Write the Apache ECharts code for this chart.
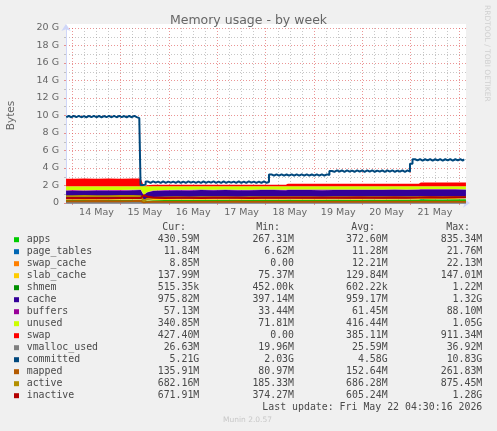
<!DOCTYPE html>
<html>
<head>
<meta charset="utf-8">
<title>Memory usage - by week</title>
<script src="https://cdn.jsdelivr.net/npm/echarts@6.0.0/dist/echarts.min.js"></script>
<style>
  html, body { margin: 0; padding: 0; background: #f0f0f0; }
  #chart { width: 497px; height: 431px; }
</style>
</head>
<body>
<div id="chart"></div>
<script>
// hours since 14 May 00:00, sample points for the stacked areas and thin lines
const hours = [-3.1, 0, 6, 12, 18, 24, 30, 34, 35.5, 37, 40, 46, 52, 58, 64, 70, 76, 82, 88, 94,
  100, 106, 107, 112, 118, 124, 130, 136, 142, 148, 154, 160, 166, 172, 173, 178, 184, 190, 195.4];

// values in G (base 1024)
const apps = [.34, .35, .33, .36, .34, .35, .37, .38, .30, .27, .31, .33, .35, .34, .36, .35, .37, .36, .34, .36,
  .37, .35, .38, .36, .37, .35, .38, .37, .36, .38, .37, .39, .38, .40, .44, .42, .41, .43, .42];
const pageTables = [.010, .010, .011, .011, .010, .011, .011, .012, .009, .008, .010, .011, .011, .012, .011, .011, .012, .011, .011, .012,
  .011, .011, .012, .012, .011, .012, .012, .011, .012, .012, .011, .012, .012, .012, .013, .012, .012, .012, .012];
const swapCache = [.012, .013, .012, .014, .013, .012, .015, .016, 0, .004, .008, .010, .012, .013, .012, .014, .013, .012, .013, .014,
  .012, .013, .011, .012, .013, .012, .011, .012, .013, .012, .011, .012, .010, .011, .009, .010, .009, .009, .009];
const slabCache = [.13, .13, .128, .13, .131, .13, .132, .133, .08, .10, .115, .12, .125, .127, .128, .129, .13, .13, .129, .13,
  .131, .13, .131, .132, .131, .132, .133, .133, .134, .134, .135, .135, .136, .136, .137, .137, .137, .138, .135];
const shmem = [.0006, .0006, .0006, .0007, .0006, .0006, .0007, .0007, .0011, .0008, .0006, .0006, .0006, .0006, .0006, .0006, .0006, .0006, .0006, .0006,
  .0006, .0006, .0006, .0006, .0006, .0006, .0006, .0006, .0006, .0006, .0006, .0006, .0006, .0006, .0005, .0005, .0005, .0005, .0005];
const cache = [.90, .91, .92, .90, .92, .91, .92, .93, .48, .82, .93, .95, .96, .95, .96, .95, .96, .94, .95, .96,
  .95, .96, .95, .96, .95, .96, .94, .95, .96, .94, .95, .96, .95, .96, .95, .96, .97, .96, .953];
const buffers = [.062, .063, .064, .062, .063, .064, .065, .066, .035, .04, .05, .055, .058, .06, .06, .061, .062, .062, .06, .061,
  .062, .062, .063, .062, .061, .062, .063, .062, .062, .061, .062, .062, .061, .06, .058, .058, .057, .057, .056];
const unused = [.465, .443, .454, .442, .442, .442, .406, .382, 1.015, .677, .496, .443, .403, .417, .388, .404, .372, .404, .416, .382,
  .383, .393, .372, .381, .383, .391, .380, .381, .378, .380, .380, .348, .370, .340, .312, .322, .324, .313, .333];
const swap = [.86, .86, .87, .86, .87, .86, .87, .87, 0, .10, .17, .17, .17, .18, .17, .17, .18, .17, .17, .18,
  .17, .17, .29, .29, .29, .29, .29, .29, .29, .29, .29, .29, .29, .29, .42, .42, .42, .42, .417];

const vmallocUsed = [.025, .025, .026, .025, .025, .026, .026, .027, .02, .022, .024, .025, .025, .025, .026, .025, .025, .025, .026, .025,
  .025, .025, .026, .026, .025, .026, .026, .025, .026, .026, .026, .026, .026, .026, .026, .026, .026, .026, .026];
const mapped = [.20, .21, .19, .22, .20, .21, .22, .23, .08, .10, .13, .14, .15, .14, .15, .14, .15, .16, .14, .15,
  .14, .15, .15, .14, .15, .14, .15, .14, .15, .14, .15, .14, .15, .14, .13, .14, .13, .14, .133];
const active = [.77, .78, .79, .77, .78, .80, .79, .78, .20, .45, .58, .62, .65, .64, .66, .65, .66, .64, .65, .66,
  .65, .66, .67, .65, .66, .64, .66, .65, .67, .66, .65, .67, .66, .65, .68, .67, .66, .67, .666];
const inactive = [.55, .56, .54, .57, .55, .56, .57, .58, .90, .75, .62, .58, .59, .60, .58, .61, .59, .60, .58, .60,
  .61, .59, .60, .61, .60, .59, .61, .60, .62, .61, .60, .62, .61, .63, .64, .65, .64, .66, .656];

// committed is sampled every 1.25 h from -3 h
const commitStart = -3;
const commitStep = 1.25;
const committed = [
  9.8, 9.95, 9.8, 9.95, 9.82, 9.96, 9.8, 9.94, 9.8, 9.95, 9.81, 9.96, 9.8, 9.95, 9.8, 9.94, 9.82, 9.95, 9.8, 9.96,
  9.8, 9.95, 9.81, 9.94, 9.8, 9.95, 9.8, 9.96, 9.82, 9.7,
  2.05, 2.1,
  2.45, 2.31, 2.46, 2.32, 2.45, 2.30, 2.46, 2.31, 2.45, 2.32, 2.44, 2.31, 2.46, 2.30, 2.45, 2.31, 2.46, 2.32, 2.45, 2.31,
  2.44, 2.30, 2.46, 2.31, 2.45, 2.32, 2.46, 2.31, 2.45, 2.30, 2.46, 2.31, 2.45, 2.32, 2.44, 2.31, 2.46, 2.30, 2.45, 2.31,
  2.46, 2.32, 2.45, 2.31, 2.44, 2.30, 2.46, 2.31, 2.40,
  3.27, 3.12, 3.28, 3.13, 3.27, 3.12, 3.26, 3.13, 3.28, 3.12, 3.27, 3.13, 3.27, 3.12, 3.28, 3.13, 3.26, 3.12, 3.27, 3.13,
  3.28, 3.12, 3.27, 3.20,
  3.65, 3.57, 3.72, 3.58, 3.73, 3.57, 3.72, 3.58, 3.71, 3.57, 3.72, 3.58, 3.73, 3.57, 3.72, 3.58, 3.72, 3.57, 3.71, 3.58,
  3.73, 3.57, 3.72, 3.58, 3.72, 3.57, 3.71, 3.58, 3.73, 3.57, 3.72, 3.58,
  4.5,
  5.0, 4.86, 5.01, 4.85, 5.0, 4.86, 5.02, 4.85, 5.0, 4.86, 5.01, 4.85, 5.0, 4.86, 5.01, 4.85, 5.0, 4.86, 5.02, 4.85,
  5.0
];

const dayLabels = ['14 May', '15 May', '16 May', '17 May', '18 May', '19 May', '20 May', '21 May'];
const dayNoons = [12, 36, 60, 84, 108, 132, 156, 180];
const midnights = [0, 24, 48, 72, 96, 120, 144, 168, 192];

const names = ['apps', 'page_tables', 'swap_cache', 'slab_cache', 'shmem', 'cache', 'buffers', 'unused', 'swap',
  'vmalloc_used', 'committed', 'mapped', 'active', 'inactive'];
const curVals = ['430.59M', '11.84M', '8.85M', '137.99M', '515.35k', '975.82M', '57.13M', '340.85M', '427.40M',
  '26.63M', '5.21G', '135.91M', '682.16M', '671.91M'];
const minVals = ['267.31M', '6.62M', '0.00', '75.37M', '452.00k', '397.14M', '33.44M', '71.81M', '0.00',
  '19.96M', '2.03G', '80.97M', '185.33M', '374.27M'];
const avgVals = ['372.60M', '11.28M', '12.21M', '129.84M', '602.22k', '959.17M', '61.45M', '416.44M', '385.11M',
  '25.59M', '4.58G', '152.64M', '686.28M', '605.24M'];
const maxVals = ['835.34M', '21.76M', '22.13M', '147.01M', '1.22M', '1.32G', '88.10M', '1.05G', '911.34M',
  '36.92M', '10.83G', '261.83M', '875.45M', '1.28G'];

const colors = ['#00CC00', '#0066B3', '#FF8000', '#FFCC00', '#008F00', '#330099', '#990099', '#CCFF00', '#FF0000',
  '#808080', '#00487D', '#B35A00', '#B38F00', '#B30000'];

let xMin = -3.13
let xMax = 195.43
let gridColor = 'rgba(143,143,143,0.5)'
let mgridColor = 'rgba(222,79,79,0.6)'
let fontColor = '#666'

// value first, hour second: the stack then runs on the value (y) dimension
function pairs(xs, ys) {
  return ys.map((v, i) => [v, xs[i]])
}

let commitHours = committed.map((v, i) => commitStart + i * commitStep)

// 6 hour marks that are not midnights
let quarterMarks = []
for (let h = -18; h <= 198; h += 6) {
  if (h % 24 !== 0) quarterMarks.push(h)
}

let series = []
let stacked = [apps, pageTables, swapCache, slabCache, shmem, cache, buffers, unused, swap]
stacked.forEach((vals, i) => {
  series.push({
    name: names[i],
    type: 'line',
    stack: 'mem',
    data: pairs(hours, vals),
    encode: {x: 1, y: 0},
    symbol: 'none',
    lineStyle: {width: 0},
    itemStyle: {color: colors[i]},
    areaStyle: {color: colors[i], opacity: 1},
    silent: true
  })
})

let lines = [
  [hours, vmallocUsed],
  [commitHours, committed],
  [hours, mapped],
  [hours, active],
  [hours, inactive]
]
lines.forEach((l, k) => {
  let i = 9 + k
  series.push({
    name: names[i],
    type: 'line',
    data: pairs(l[0], l[1]),
    encode: {x: 1, y: 0},
    step: names[i] === 'committed' ? 'middle' : false,
    symbol: 'none',
    lineStyle: {width: 2, color: colors[i]},
    itemStyle: {color: colors[i]},
    silent: true
  })
})

// legend table (rrdtool style)
let graphics = []
let monoFont = '9.9px "DejaVu Sans Mono"'
let legendColor = '#4a4a4a'
let headerY = 227.7
let headers = [['Cur:', 186], ['Min:', 280], ['Avg:', 375], ['Max:', 470]]
headers.forEach(h => {
  graphics.push({
    type: 'text', x: h[1], y: headerY,
    style: {text: h[0], font: monoFont, fill: legendColor, align: 'right', verticalAlign: 'middle'}
  })
})
names.forEach((n, i) => {
  let y = 239.7 + i * 12
  graphics.push({type: 'rect', shape: {x: 14, y: y - 2.5, width: 5, height: 5}, style: {fill: colors[i]}})
  graphics.push({
    type: 'text', x: 26.7, y: y,
    style: {text: n, font: monoFont, fill: legendColor, align: 'left', verticalAlign: 'middle'}
  })
  let cols = [[curVals, 199.3], [minVals, 294], [avgVals, 387.7], [maxVals, 482.3]]
  cols.forEach(c => {
    graphics.push({
      type: 'text', x: c[1], y: y,
      style: {text: c[0][i], font: monoFont, fill: legendColor, align: 'right', verticalAlign: 'middle'}
    })
  })
})
graphics.push({
  type: 'text', x: 482.3, y: 407.7,
  style: {text: 'Last update: Fri May 22 04:30:16 2026', font: monoFont, fill: legendColor, align: 'right', verticalAlign: 'middle'}
})
graphics.push({
  type: 'text', x: 247.5, y: 419.7,
  style: {text: 'Munin 2.0.57', font: '7.5px "DejaVu Sans"', fill: '#c8c8c8', align: 'center', verticalAlign: 'middle'}
})
graphics.push({
  type: 'text', x: 487, y: 5, rotation: -Math.PI / 2,
  style: {text: 'RRDTOOL / TOBI OETIKER', font: '7.5px "DejaVu Sans"', fill: '#d0d0d0', align: 'left', verticalAlign: 'middle'}
})
// a few px of canvas above the 20 G line
graphics.push({type: 'rect', z: -10, shape: {x: 66, y: 24, width: 400, height: 4}, style: {fill: '#fff'}})

let chart = echarts.init(document.getElementById('chart'))
let option = {
  backgroundColor: '#F0F0F0',
  animation: false,
  title: {
    text: 'Memory usage - by week',
    left: 'center',
    top: 14,
    padding: 0,
    textStyle: {fontFamily: 'DejaVu Sans', fontSize: 12.5, fontWeight: 'normal', color: fontColor}
  },
  grid: {
    left: 66, right: 31, top: 28, bottom: 228,
    outerBoundsMode: 'none',
    show: true, backgroundColor: '#FFFFFF', borderWidth: 0
  },
  xAxis: [
    {
      type: 'value',
      min: xMin,
      max: xMax,
      axisLine: {
        onZero: false,
        lineStyle: {color: '#CFD6F8'},
        symbol: ['none', 'arrow'], symbolSize: [7, 7], symbolOffset: [0, 4]
      },
      axisTick: {show: true, length: 2, customValues: midnights, lineStyle: {color: mgridColor}},
      axisLabel: {
        customValues: dayNoons,
        margin: 5,
        color: fontColor,
        fontFamily: 'DejaVu Sans',
        fontSize: 9.5,
        formatter: v => dayLabels[Math.round((v - 12) / 24)]
      },
      splitLine: {show: true, lineStyle: {color: mgridColor, type: [1, 2], width: 1}}
    },
    {
      type: 'value',
      min: xMin,
      max: xMax,
      position: 'top',
      axisLine: {show: false, onZero: false},
      axisLabel: {show: false},
      axisTick: {show: false, customValues: quarterMarks},
      splitLine: {show: true, lineStyle: {color: gridColor, type: [1, 2], width: 1}}
    }
  ],
  yAxis: {
    type: 'value',
    min: 0,
    max: 20,
    interval: 2,
    name: 'Bytes',
    nameLocation: 'middle',
    nameGap: 49,
    nameTextStyle: {fontFamily: 'DejaVu Sans', fontSize: 10.5, color: fontColor},
    axisLine: {
      show: true,
      onZero: false,
      lineStyle: {color: '#CFD6F8'},
      symbol: ['none', 'arrow'], symbolSize: [7, 7], symbolOffset: [0, 4]
    },
    axisTick: {show: true, length: 2, lineStyle: {color: mgridColor}},
    minorTick: {show: true, splitNumber: 2, length: 2, lineStyle: {color: gridColor}},
    axisLabel: {
      margin: 7,
      color: fontColor,
      fontFamily: 'DejaVu Sans',
      fontSize: 9.5,
      formatter: v => v === 0 ? '0' : v + ' G'
    },
    splitLine: {show: true, lineStyle: {color: mgridColor, type: [1, 2], width: 1}},
    minorSplitLine: {show: true, lineStyle: {color: gridColor, type: [1, 2], width: 1}}
  },
  graphic: graphics,
  series: series
}
chart.setOption(option)
</script>
</body>
</html>
